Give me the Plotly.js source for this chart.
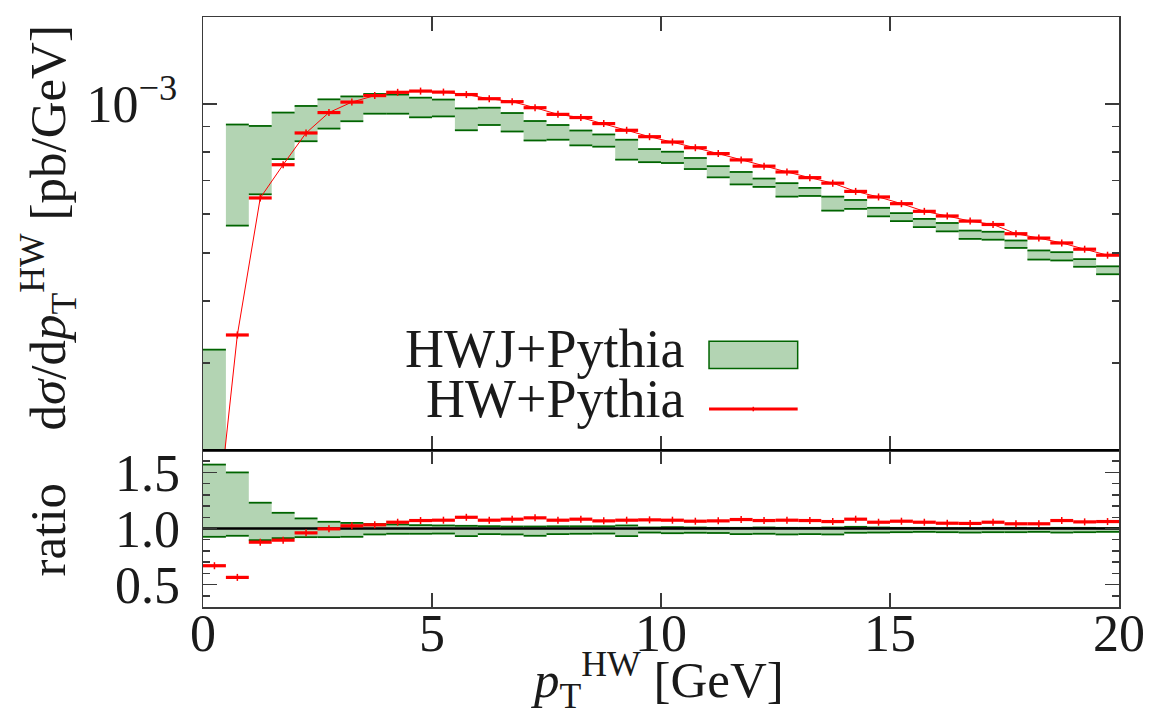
<!DOCTYPE html>
<html>
<head>
<meta charset="utf-8">
<script src="https://cdn.plot.ly/plotly-3.0.1.min.js"></script>
<style>html,body{margin:0;padding:0;background:#fff;}#chart{width:1154px;height:713px;}</style>
</head>
<body>
<div id="chart"></div>
<script>
// ---------- data ----------
const pTEdges = [0,0.5,1,1.5,2,2.5,3,3.5,4,4.5,5,5.5,6,6.5,7,7.5,8,8.5,9,9.5,10,
                 10.5,11,11.5,12,12.5,13,13.5,14,14.5,15,15.5,16,16.5,17,17.5,18,18.5,19,19.5,20];

// HWJ+Pythia band, dσ/dpT [pb/GeV]
const hwjLow  = [1.88e-4,5.68e-4,6.57e-4,7.74e-4,8.41e-4,8.92e-4,9.23e-4,9.56e-4,9.56e-4,9.40e-4,
                 9.44e-4,8.85e-4,9.07e-4,8.80e-4,8.44e-4,8.47e-4,8.25e-4,8.20e-4,7.72e-4,7.63e-4,
                 7.60e-4,7.39e-4,7.11e-4,6.88e-4,6.80e-4,6.50e-4,6.52e-4,6.09e-4,6.14e-4,5.93e-4,
                 5.80e-4,5.64e-4,5.53e-4,5.34e-4,5.32e-4,5.12e-4,4.85e-4,4.83e-4,4.69e-4,4.53e-4];
const hwjHigh = [3.19e-4,9.09e-4,9.03e-4,9.61e-4,9.91e-4,1.022e-3,1.036e-3,1.048e-3,1.045e-3,1.030e-3,
                 1.021e-3,9.80e-4,9.83e-4,9.59e-4,9.24e-4,9.07e-4,8.84e-4,8.68e-4,8.47e-4,8.11e-4,
                 8.01e-4,7.78e-4,7.49e-4,7.29e-4,7.07e-4,6.92e-4,6.77e-4,6.50e-4,6.40e-4,6.17e-4,
                 6.02e-4,5.86e-4,5.75e-4,5.55e-4,5.52e-4,5.30e-4,5.06e-4,5.02e-4,4.86e-4,4.70e-4];
// HW+Pythia, dσ/dpT [pb/GeV]
const hwValues = [1.27e-4,3.415e-4,6.46e-4,7.54e-4,8.74e-4,9.61e-4,1.009e-3,1.040e-3,1.056e-3,1.062e-3,
                  1.057e-3,1.045e-3,1.025e-3,1.011e-3,9.83e-4,9.53e-4,9.39e-4,9.13e-4,8.85e-4,8.59e-4,
                  8.38e-4,8.16e-4,7.94e-4,7.71e-4,7.49e-4,7.29e-4,7.10e-4,6.92e-4,6.66e-4,6.49e-4,
                  6.29e-4,6.07e-4,5.94e-4,5.80e-4,5.71e-4,5.47e-4,5.36e-4,5.24e-4,5.09e-4,4.95e-4];

// ratio panel
const ratioHwjLow  = [0.926,0.935,0.896,0.914,0.923,0.923,0.926,0.947,0.953,0.953,
                      0.955,0.932,0.950,0.947,0.935,0.950,0.953,0.955,0.932,0.964,
                      0.958,0.962,0.960,0.950,0.953,0.947,0.950,0.947,0.962,0.964,
                      0.967,0.970,0.967,0.964,0.967,0.967,0.970,0.964,0.967,0.970];
const ratioHwjHigh = [1.570,1.500,1.230,1.140,1.090,1.060,1.050,1.040,1.036,1.030,
                      1.027,1.024,1.021,1.018,1.018,1.020,1.020,1.020,1.027,1.009,
                      1.012,1.009,1.006,1.006,1.009,1.006,1.006,1.009,1.015,1.009,
                      1.006,1.006,1.003,1.003,1.006,1.006,1.003,1.006,1.006,1.003];
const ratioHw = [0.668,0.564,0.878,0.896,0.961,0.997,1.024,1.033,1.056,1.071,
                 1.074,1.100,1.074,1.083,1.095,1.074,1.083,1.068,1.074,1.077,
                 1.074,1.065,1.068,1.080,1.071,1.074,1.071,1.062,1.083,1.056,
                 1.065,1.056,1.047,1.045,1.056,1.042,1.042,1.071,1.059,1.062];
const ratioReference = 1.0;

const xTickVals = [0,5,10,15,20];
const xTickText = ['0','5','10','15','20'];
const yTopTickVals = [1e-3];
const yTopTickText = ['10<sup>\u22123</sup>'];
const yTopMinorVals = [2e-4,3e-4,4e-4,5e-4,6e-4,7e-4,8e-4,9e-4];
const yRatioTickVals = [0.5,1.0,1.5];
const yRatioTickText = ['0.5','1.0','1.5'];
const yRatioMinorVals = [0.4,0.6,0.7,0.8,0.9,1.1,1.2,1.3,1.4,1.6];

const seriesNames = ['HWJ+Pythia','HW+Pythia'];

// ---------- styles ----------
const FONT = 'Liberation Serif, Times New Roman, serif';
const TXT = '#1a1a1a';
const GREEN_FILL = 'rgb(179,212,179)';
const GREEN_LINE = 'rgb(0,100,0)';
const RED = 'rgb(255,0,0)';
const FRAME = '#3a3a3a';

// ---------- helpers ----------
const centers = pTEdges.slice(0,-1).map((e,i)=> (e + pTEdges[i+1]) / 2);
const halfW = pTEdges.slice(0,-1).map((e,i)=> (pTEdges[i+1] - e) / 2);
function stepY(vals){ return vals.concat([vals[vals.length-1]]); }
function segs(vals){
  const x=[], y=[];
  vals.forEach((v,i)=>{ x.push(pTEdges[i], pTEdges[i+1], null); y.push(v, v, null); });
  return {x, y};
}

function bandTraces(lo, hi, xa, ya){
  const s1 = segs(lo), s2 = segs(hi);
  return [
    {x: pTEdges, y: stepY(lo), xaxis: xa, yaxis: ya, mode:'lines', line:{shape:'hv', width:0, color:GREEN_FILL}, hoverinfo:'skip', showlegend:false},
    {x: pTEdges, y: stepY(hi), xaxis: xa, yaxis: ya, mode:'lines', line:{shape:'hv', width:0, color:GREEN_FILL}, fill:'tonexty', fillcolor:GREEN_FILL, name:seriesNames[0], showlegend:false},
    {x: s1.x, y: s1.y, xaxis: xa, yaxis: ya, mode:'lines', line:{width:1.8, color:GREEN_LINE}, connectgaps:false, hoverinfo:'skip', showlegend:false},
    {x: s2.x, y: s2.y, xaxis: xa, yaxis: ya, mode:'lines', line:{width:1.8, color:GREEN_LINE}, connectgaps:false, hoverinfo:'skip', showlegend:false}
  ];
}

const traces = [];
traces.push(...bandTraces(hwjLow, hwjHigh, 'x', 'y'));
traces.push({
  x: centers, y: hwValues, xaxis:'x', yaxis:'y', mode:'lines+markers', name: seriesNames[1], showlegend:false,
  line:{color:RED, width:1},
  marker:{symbol:'line-ns', size:5, color:RED, line:{color:RED, width:1.5}},
  error_x:{type:'data', array: halfW, symmetric:true, thickness:3.2, width:0, color:RED}
});
traces.push(...bandTraces(ratioHwjLow, ratioHwjHigh, 'x2', 'y2'));
traces.push({
  x: [pTEdges[0], pTEdges[pTEdges.length-1]], y: [ratioReference, ratioReference], xaxis:'x2', yaxis:'y2',
  mode:'lines', line:{color:'#000', width:2.4}, hoverinfo:'skip', showlegend:false
});
traces.push({
  x: centers, y: ratioHw, xaxis:'x2', yaxis:'y2', mode:'markers', showlegend:false,
  marker:{symbol:'line-ns', size:5, color:RED, line:{color:RED, width:1.5}},
  error_x:{type:'data', array: halfW, symmetric:true, thickness:3.2, width:0, color:RED}
});

// ---------- layout geometry (pixels -> paper) ----------
const W=1154, H=713, L=203, R=1119.5, T=16.7, B=606.7;
const px = v => (v - L) / (R - L);
const py = v => (B - v) / (B - T);
const split = py(449.7);

const axisCommon = {
  showgrid:false, zeroline:false, showline:true, linecolor:FRAME, linewidth:1.5,
  ticks:'inside', tickcolor:FRAME, tickwidth:1.5, ticklen:14, mirror:'ticks',
  tickfont:{family:FONT, size:52, color:TXT}
};

const layout = {
  width:W, height:H,
  margin:{l:L, r:W-R, t:T, b:H-B, pad:0},
  paper_bgcolor:'#fff', plot_bgcolor:'#fff',
  font:{family:FONT, color:TXT},
  showlegend:false,
  xaxis: Object.assign({}, axisCommon, {anchor:'y', domain:[0,1], range:[0,20], tickmode:'array', tickvals:xTickVals, showticklabels:false, matches:'x2'}),
  yaxis: Object.assign({}, axisCommon, {anchor:'x', domain:[split,1], type:'log', range:[Math.log10(2e-4), -2.8242],
          tickmode:'array', tickvals:yTopTickVals, ticktext:yTopTickText, ticklabelstandoff:14,
          minor:{tickmode:'array', tickvals:yTopMinorVals, ticks:'inside', ticklen:7, tickcolor:FRAME, tickwidth:1.5}}),
  xaxis2: Object.assign({}, axisCommon, {anchor:'y2', domain:[0,1], range:[0,20], tickmode:'array', tickvals:xTickVals, ticktext:xTickText, ticklabelstandoff:-20}),
  yaxis2: Object.assign({}, axisCommon, {anchor:'x2', domain:[0,split], range:[0.3,1.7],
          tickmode:'array', tickvals:yRatioTickVals, ticktext:yRatioTickText, ticklabelstandoff:11,
          minor:{tickmode:'array', tickvals:yRatioMinorVals, ticks:'inside', ticklen:7, tickcolor:FRAME, tickwidth:1.5}}),
  shapes:[
    {type:'line', xref:'paper', yref:'paper', x0:0, x1:1, y0:split, y1:split, line:{color:'#000', width:2.2}, layer:'above'},
    {type:'rect', xref:'paper', yref:'paper', x0:px(709.3), x1:px(798), y0:py(368.3), y1:py(341), fillcolor:GREEN_FILL, line:{color:GREEN_LINE, width:1.5}},
    {type:'line', xref:'paper', yref:'paper', x0:px(709.3), x1:px(798), y0:py(408.7), y1:py(408.7), line:{color:RED, width:2.8}},
    {type:'line', xref:'paper', yref:'paper', x0:px(753.6), x1:px(753.6), y0:py(406.5), y1:py(411), line:{color:RED, width:1.5}}
  ],
  annotations:[
    {xref:'paper', yref:'paper', x:px(686), y:py(349), xanchor:'right', yanchor:'middle', showarrow:false,
     text:seriesNames[0], font:{family:FONT, size:54, color:TXT}},
    {xref:'paper', yref:'paper', x:px(686), y:py(399), xanchor:'right', yanchor:'middle', showarrow:false,
     text:seriesNames[1], font:{family:FONT, size:54, color:TXT}},
    {xref:'paper', yref:'paper', x:px(48), y:py(228), xanchor:'center', yanchor:'middle', textangle:-90, showarrow:false,
     text:'d<i>\u03c3</i>/d<i>p</i><sub>T</sub><sup>HW</sup> [pb/GeV]', font:{family:FONT, size:51, color:TXT}},
    {xref:'paper', yref:'paper', x:px(48), y:py(530), xanchor:'center', yanchor:'middle', textangle:-90, showarrow:false,
     text:'ratio', font:{family:FONT, size:51, color:TXT}},
    {xref:'paper', yref:'paper', x:px(658), y:py(680), xanchor:'center', yanchor:'middle', showarrow:false,
     text:'<i>p</i><sub>T</sub><sup>HW</sup> [GeV]', font:{family:FONT, size:51, color:TXT}}
  ]
};

Plotly.newPlot('chart', traces, layout, {staticPlot:true, displayModeBar:false});
</script>
</body>
</html>
